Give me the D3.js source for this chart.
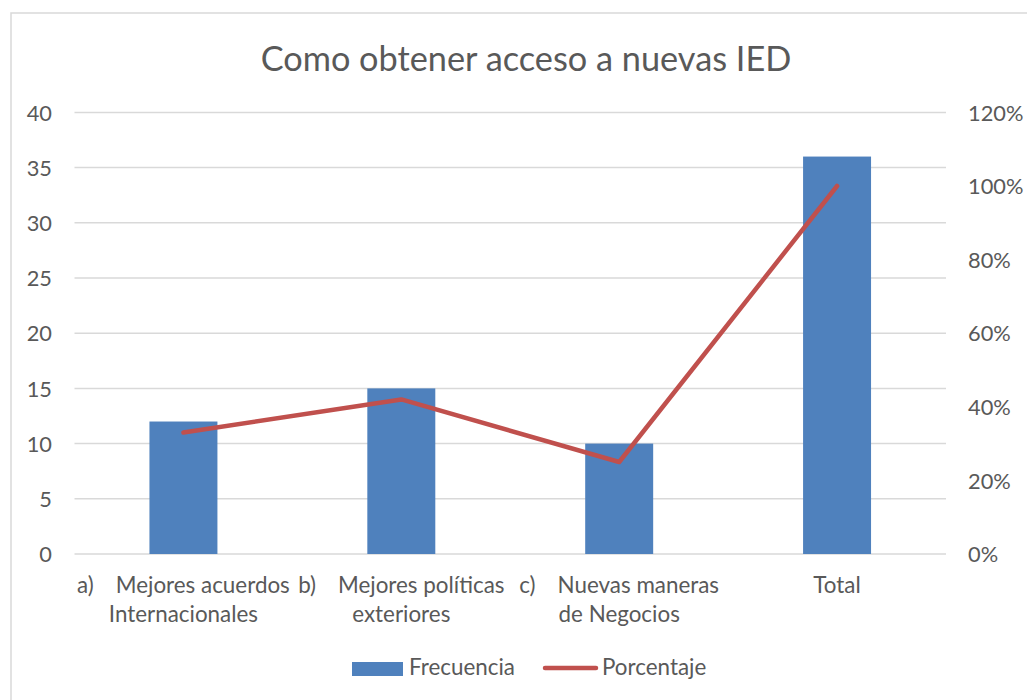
<!DOCTYPE html>
<html>
<head>
<meta charset="utf-8">
<script src="https://cdn.jsdelivr.net/npm/d3@7"></script>
<style>
  html, body { margin: 0; padding: 0; background: #fff; }
  svg { display: block; }
  text { font-family: Lato, "Open Sans", sans-serif; fill: #595959; }
</style>
</head>
<body>
<svg id="chart" width="1027" height="700"></svg>
<script>
// ---- data ----
const title = "Como obtener acceso a nuevas IED";
const categoryKeys = ["a", "b", "c", "total"];
const categoryPrefixes = ["a)", "b)", "c)", ""];
const categoryLine1 = ["Mejores acuerdos", "Mejores políticas", "Nuevas maneras", "Total"];
const categoryLine2 = ["Internacionales", "exteriores", "de Negocios", ""];
const frecuencia = [12, 15, 10, 36];
const porcentaje = [0.33, 0.42, 0.25, 1.00];
const leftTicks = [0, 5, 10, 15, 20, 25, 30, 35, 40];
const rightTicks = [0, 0.2, 0.4, 0.6, 0.8, 1.0, 1.2];
const seriesNames = ["Frecuencia", "Porcentaje"];

// ---- layout ----
const svg = d3.select("#chart");
const plotLeft = 74.5, plotRight = 946, plotTop = 112.4, plotBottom = 554;
const barColor = "#4f81bd", lineColor = "#c0504d", gridColor = "#d9d9d9";
const labelSize = "22.4px", tickSize = "21.8px";

// chart border (left and top visible)
svg.append("rect").attr("x", 11).attr("y", 13).attr("width", 1030).attr("height", 720)
  .attr("fill", "none").attr("stroke", "#d9d9d9").attr("stroke-width", 1.5);

const x = d3.scaleBand().domain(categoryKeys).range([plotLeft, plotRight])
  .paddingInner(0.688).paddingOuter(0.344);
const yL = d3.scaleLinear().domain([0, 40]).range([plotBottom, plotTop]);
const yR = d3.scaleLinear().domain([0, 1.2]).range([plotBottom, plotTop]);

// title
svg.append("text").attr("x", 526).attr("y", 71).attr("text-anchor", "middle")
  .style("font-size", "34.3px").text(title);

// gridlines
svg.append("g").selectAll("line").data(leftTicks).join("line")
  .attr("x1", plotLeft).attr("x2", plotRight)
  .attr("y1", d => yL(d)).attr("y2", d => yL(d))
  .attr("stroke", gridColor).attr("stroke-width", 1.5);

// left axis labels
const leftAxis = d3.axisLeft(yL).tickValues(leftTicks).tickSize(0).tickPadding(0);
const gL = svg.append("g").attr("transform", "translate(52,0)").call(leftAxis);
gL.select(".domain").remove();
gL.selectAll("text").style("font-size", tickSize).attr("fill", "#595959")
  .attr("font-family", "Lato").attr("dy", "0.35em");

// right axis labels
const rightAxis = d3.axisRight(yR).tickValues(rightTicks).tickSize(0).tickPadding(0)
  .tickFormat(d3.format(".0%"));
const gR = svg.append("g").attr("transform", "translate(968,0)").call(rightAxis);
gR.select(".domain").remove();
gR.selectAll("text").style("font-size", tickSize).attr("fill", "#595959")
  .attr("font-family", "Lato").attr("dy", "0.35em");

// bars
svg.append("g").selectAll("rect").data(frecuencia).join("rect")
  .attr("x", (d, i) => x(categoryKeys[i]))
  .attr("width", x.bandwidth())
  .attr("y", d => yL(d))
  .attr("height", d => yL(0) - yL(d))
  .attr("fill", barColor);

// line
const line = d3.line()
  .x((d, i) => x(categoryKeys[i]) + x.bandwidth() / 2)
  .y(d => yR(d));
svg.append("path").datum(porcentaje).attr("d", line)
  .attr("fill", "none").attr("stroke", lineColor).attr("stroke-width", 4.5)
  .attr("stroke-linecap", "round").attr("stroke-linejoin", "round");

// category labels
const catG = svg.append("g");
categoryKeys.forEach((k, i) => {
  const cx = x(k) + x.bandwidth() / 2;
  const t1 = catG.append("text").attr("x", cx).attr("y", 593)
    .attr("text-anchor", "middle").style("font-size", labelSize);
  if (categoryPrefixes[i]) {
    t1.append("tspan").text(categoryPrefixes[i]);
    t1.append("tspan").attr("dx", 22).text(categoryLine1[i]);
  } else {
    t1.append("tspan").text(categoryLine1[i]);
  }
  if (categoryLine2[i]) {
    catG.append("text").attr("x", cx).attr("y", 622)
      .attr("text-anchor", "middle").style("font-size", labelSize).text(categoryLine2[i]);
  }
});

// legend
const lg = svg.append("g");
lg.append("rect").attr("x", 352).attr("y", 662).attr("width", 51).attr("height", 14).attr("fill", barColor);
lg.append("text").attr("x", 409).attr("y", 675).style("font-size", labelSize).text(seriesNames[0]);
lg.append("line").attr("x1", 545).attr("x2", 596).attr("y1", 668).attr("y2", 668)
  .attr("stroke", lineColor).attr("stroke-width", 4.5).attr("stroke-linecap", "round");
lg.append("text").attr("x", 602).attr("y", 675).style("font-size", labelSize).text(seriesNames[1]);
</script>
</body>
</html>
